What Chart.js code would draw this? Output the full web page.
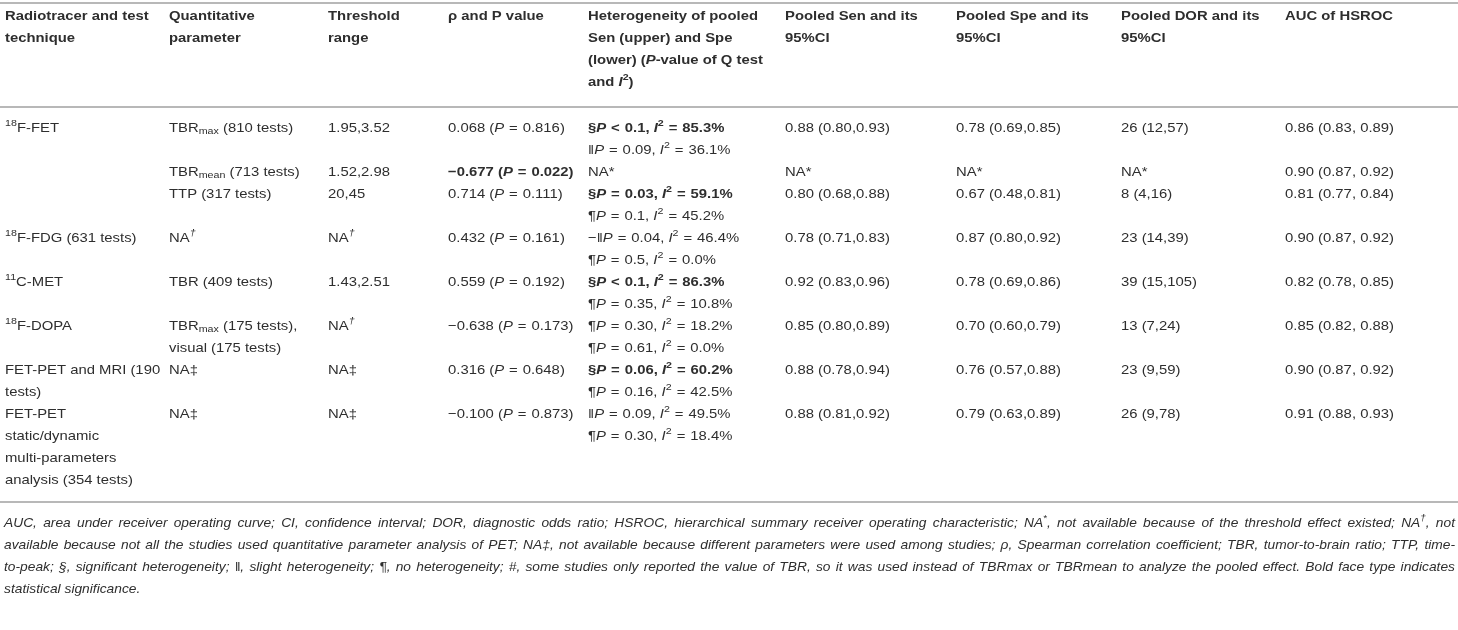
<!DOCTYPE html>
<html>
<head>
<meta charset="utf-8">
<script src="https://cdn.jsdelivr.net/npm/chart.js@4.4.1/dist/chart.umd.min.js"></script>
<style>
html,body{margin:0;padding:0;background:#fff;}
#wrap{position:relative;width:1458px;height:630px;}
</style>
</head>
<body>
<div id="wrap"><canvas id="c"></canvas></div>
<script>
// ---------- data ----------
const headers = [
  'Radiotracer and test\ntechnique',
  'Quantitative\nparameter',
  'Threshold\nrange',
  'ρ and P value',
  'Heterogeneity of pooled\nSen (upper) and Spe\n(lower) (<i>P</i>-value of Q test\nand <i>I</i><sup>2</sup>)',
  'Pooled Sen and its\n95%CI',
  'Pooled Spe and its\n95%CI',
  'Pooled DOR and its\n95%CI',
  'AUC of HSROC'
];
const tracers = ['<sup>18</sup>F-FET','','','<sup>18</sup>F-FDG (631 tests)','<sup>11</sup>C-MET','<sup>18</sup>F-DOPA','FET-PET and MRI (190\ntests)','FET-PET\nstatic/dynamic\nmulti-parameters\nanalysis (354 tests)'];
const parameters = ['TBR<sub>max</sub> (810 tests)','TBR<sub>mean</sub> (713 tests)','TTP (317 tests)','NA<sup><i>†</i></sup>','TBR (409 tests)','TBR<sub>max</sub> (175 tests),\nvisual (175 tests)','NA‡','NA‡'];
const thresholds = ['1.95,3.52','1.52,2.98','20,45','NA<sup><i>†</i></sup>','1.43,2.51','NA<sup><i>†</i></sup>','NA‡','NA‡'];
const rhoP = ['0.068 (<i>P</i> = 0.816)','<b>−0.677 (<i>P</i> = 0.022)</b>','0.714 (<i>P</i> = 0.111)','0.432 (<i>P</i> = 0.161)','0.559 (<i>P</i> = 0.192)','−0.638 (<i>P</i> = 0.173)','0.316 (<i>P</i> = 0.648)','−0.100 (<i>P</i> = 0.873)'];
const hetSen = ['<b>§<i>P</i> &lt; 0.1, <i>I</i><sup>2</sup> = 85.3%</b>','NA*','<b>§<i>P</i> = 0.03, <i>I</i><sup>2</sup> = 59.1%</b>','−‖<i>P</i> = 0.04, <i>I</i><sup>2</sup> = 46.4%','<b>§<i>P</i> &lt; 0.1, <i>I</i><sup>2</sup> = 86.3%</b>','¶<i>P</i> = 0.30, <i>I</i><sup>2</sup> = 18.2%','<b>§<i>P</i> = 0.06, <i>I</i><sup>2</sup> = 60.2%</b>','‖<i>P</i> = 0.09, <i>I</i><sup>2</sup> = 49.5%'];
const hetSpe = ['‖<i>P</i> = 0.09, <i>I</i><sup>2</sup> = 36.1%','','¶<i>P</i> = 0.1, <i>I</i><sup>2</sup> = 45.2%','¶<i>P</i> = 0.5, <i>I</i><sup>2</sup> = 0.0%','¶<i>P</i> = 0.35, <i>I</i><sup>2</sup> = 10.8%','¶<i>P</i> = 0.61, <i>I</i><sup>2</sup> = 0.0%','¶<i>P</i> = 0.16, <i>I</i><sup>2</sup> = 42.5%','¶<i>P</i> = 0.30, <i>I</i><sup>2</sup> = 18.4%'];
const pooledSen = ['0.88 (0.80,0.93)','NA*','0.80 (0.68,0.88)','0.78 (0.71,0.83)','0.92 (0.83,0.96)','0.85 (0.80,0.89)','0.88 (0.78,0.94)','0.88 (0.81,0.92)'];
const pooledSpe = ['0.78 (0.69,0.85)','NA*','0.67 (0.48,0.81)','0.87 (0.80,0.92)','0.78 (0.69,0.86)','0.70 (0.60,0.79)','0.76 (0.57,0.88)','0.79 (0.63,0.89)'];
const pooledDOR = ['26 (12,57)','NA*','8 (4,16)','23 (14,39)','39 (15,105)','13 (7,24)','23 (9,59)','26 (9,78)'];
const aucHSROC = ['0.86 (0.83, 0.89)','0.90 (0.87, 0.92)','0.81 (0.77, 0.84)','0.90 (0.87, 0.92)','0.82 (0.78, 0.85)','0.85 (0.82, 0.88)','0.90 (0.87, 0.92)','0.91 (0.88, 0.93)'];
const footnoteLines = [
  'AUC, area under receiver operating curve; CI, confidence interval; DOR, diagnostic odds ratio; HSROC, hierarchical summary receiver operating characteristic; NA<sup>*</sup>, not available because of the threshold effect existed; NA<sup>†</sup>, not',
  'available because not all the studies used quantitative parameter analysis of PET; NA‡, not available because different parameters were used among studies; ρ, Spearman correlation coefficient; TBR, tumor-to-brain ratio; TTP, time-',
  'to-peak; §, significant heterogeneity; ‖, slight heterogeneity; ¶, no heterogeneity; #, some studies only reported the value of TBR, so it was used instead of TBRmax or TBRmean to analyze the pooled effect. Bold face type indicates',
  'statistical significance.'
];

// ---------- layout ----------
const COL_X = [5,169,328,448,588,785,956,1121,1285];
const ROW_LINE = [0,2,3,5,7,9,11,13];
const HEAD_Y0 = 16, BODY_Y0 = 128, LINE_H = 22, FOOT_Y0 = 523;
const RULES_Y = [3,107,502];
const FONT = "'Liberation Sans', Arial, sans-serif";
const SIZE = 13.5;
const SX = 1.1;          // horizontal stretch of the reference typeface
const COLOR = '#2e2e2e';

const columns = [tracers, parameters, thresholds, rhoP, hetSen, pooledSen, pooledSpe, pooledDOR, aucHSROC];
const datasets = columns.map((col, c) => ({
  data: col.map((t, r) => ({x: COL_X[c], y: BODY_Y0 + LINE_H * ROW_LINE[r], label: t})),
  pointRadius: 0, showLine: false
}));
datasets.push({
  data: hetSpe.map((t, r) => ({x: COL_X[4], y: BODY_Y0 + LINE_H * (ROW_LINE[r] + 1), label: t})),
  pointRadius: 0, showLine: false
});

// ---------- rich text ----------
function mathSpace(str) {
  // slightly wider spacing around relations, as in the typeset original
  return str.replace(/ = /g, '\u2004=\u2004').replace(/ &lt; /g, '\u2004&lt;\u2004');
}
function parse(str, baseBold, baseItalic) {
  str = str.replace(/&lt;/g, '\u0001');
  const parts = str.split(/(<\/?(?:b|i|sup|sub)>)/);
  let b = !!baseBold, i = !!baseItalic, sup = 0, sub = 0;
  const segs = [];
  for (const p of parts) {
    if (p === '<b>') b = true; else if (p === '</b>') b = baseBold;
    else if (p === '<i>') i = true; else if (p === '</i>') i = baseItalic;
    else if (p === '<sup>') sup++; else if (p === '</sup>') sup--;
    else if (p === '<sub>') sub++; else if (p === '</sub>') sub--;
    else if (p.length) segs.push({t: p.replace(/\u0001/g, '<'), b, i, sup: sup > 0, sub: sub > 0});
  }
  return segs;
}
function fontOf(s, size) {
  const sz = (s.sup || s.sub) ? size * 0.72 : size;
  return (s.i ? 'italic ' : '') + (s.b ? 'bold ' : '') + sz.toFixed(2) + 'px ' + FONT;
}
function measureRich(ctx, str, opt) {
  opt = opt || {};
  const size = opt.size || SIZE, sx = opt.sx || SX;
  let w = 0;
  for (const s of parse(str, !!opt.bold, !!opt.italic)) {
    ctx.font = fontOf(s, size);
    w += ctx.measureText(s.t).width;
  }
  return w * sx;
}
function drawRich(ctx, str, x, y, opt) {
  opt = opt || {};
  const size = opt.size || SIZE, sx = opt.sx || SX;
  const segs = parse(str, !!opt.bold, !!opt.italic);
  ctx.save();
  ctx.translate(x, y);
  ctx.scale(sx, 1);
  let cx = 0;
  for (const s of segs) {
    ctx.font = fontOf(s, size);
    let dy = 0;
    if (s.sup) dy = -size * 0.33;
    if (s.sub) dy = size * 0.25;
    ctx.fillText(s.t, cx, dy);
    cx += ctx.measureText(s.t).width;
  }
  ctx.restore();
  return cx * sx;
}

const tablePlugin = {
  id: 'tableText',
  afterDraw(chart) {
    const ctx = chart.ctx, xs = chart.scales.x, ys = chart.scales.y;
    const lineStep = ys.getPixelForValue(LINE_H) - ys.getPixelForValue(0);
    ctx.save();
    ctx.textBaseline = 'middle';
    ctx.fillStyle = COLOR;
    // rules
    ctx.strokeStyle = '#b8b8b8';
    ctx.lineWidth = 2;
    RULES_Y.forEach(v => {
      const py = ys.getPixelForValue(v);
      ctx.beginPath(); ctx.moveTo(xs.getPixelForValue(0), py); ctx.lineTo(xs.getPixelForValue(1458), py); ctx.stroke();
    });
    // headers
    headers.forEach((h, c) => {
      h.split('\n').forEach((ln, k) => {
        drawRich(ctx, ln, xs.getPixelForValue(COL_X[c]), ys.getPixelForValue(HEAD_Y0) + lineStep * k, {bold: true});
      });
    });
    // cells
    chart.data.datasets.forEach((ds, d) => {
      const meta = chart.getDatasetMeta(d);
      meta.data.forEach((el, r) => {
        const txt = ds.data[r].label;
        if (!txt) return;
        txt.split('\n').forEach((ln, k) => {
          drawRich(ctx, mathSpace(ln), el.x, el.y + lineStep * k);
        });
      });
    });
    // footnote (justified)
    const left = xs.getPixelForValue(4), right = xs.getPixelForValue(1455);
    const fopt = {italic: true, size: 13, sx: 1.06};
    footnoteLines.forEach((ln, k) => {
      const py = ys.getPixelForValue(FOOT_Y0) + lineStep * k;
      const words = ln.split(' ');
      const last = k === footnoteLines.length - 1;
      const widths = words.map(w => measureRich(ctx, w, fopt));
      const spaceW = measureRich(ctx, 'a b', fopt) - measureRich(ctx, 'ab', fopt);
      const total = widths.reduce((a, b) => a + b, 0);
      const gap = last ? spaceW : (right - left - total) / (words.length - 1);
      let cx = left;
      words.forEach((w, j) => {
        drawRich(ctx, w, cx, py, fopt);
        cx += widths[j] + gap;
      });
    });
    ctx.restore();
  }
};

new Chart(document.getElementById('c'), {
  type: 'scatter',
  data: {datasets},
  options: {
    responsive: true,
    maintainAspectRatio: false,
    animation: false,
    events: [],
    layout: {padding: 0},
    plugins: {legend: {display: false}, tooltip: {enabled: false}},
    scales: {
      x: {type: 'linear', min: 0, max: 1458, display: false},
      y: {type: 'linear', min: 0, max: 630, reverse: true, display: false}
    }
  },
  plugins: [tablePlugin]
});
</script>
</body>
</html>
